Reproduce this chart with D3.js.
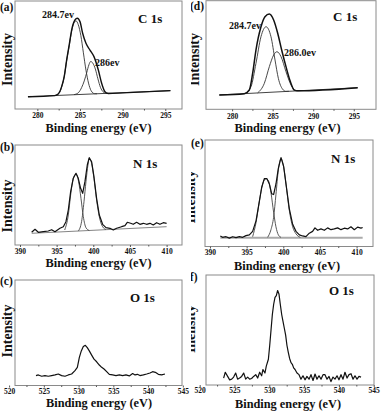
<!DOCTYPE html>
<html>
<head>
<meta charset="utf-8">
<style>
  body { margin: 0; background: #fff; }
  .frame { fill: none; stroke: #8a8a8a; stroke-width: 1; }
  .axis text { font-size: 7.5px; font-family: "Liberation Serif", "Times New Roman", "DejaVu Serif", serif; font-weight: bold; fill: #111; }
  .axis line { stroke: #555; }
  .axis path { display: none; }
</style>
<script src="https://d3js.org/d3.v7.min.js"></script>
</head>
<body>
<script>
// ---- data: [binding energy (eV), intensity (a.u., 0-100 of frame)] ----

// (a) C 1s
const c1sA_ticks = [280, 285, 290, 295];
const c1sA_envelope = [[278.9,11.4],[282.0,12.4],[282.3,13.0],[282.85,20.7],[283.15,30],[283.44,45.4],[283.75,60],[284.02,73.1],[284.41,82.4],[284.69,84.0],[285.0,80.9],[285.31,70.1],[285.7,60.8],[286.17,54.6],[286.64,48.5],[287.15,36.1],[287.54,23.8],[287.93,16.0],[288.32,14.4],[290,14.9],[295.6,17.0]];
const c1sA_peak1 = [[282.0,12.4],[282.6,15],[282.85,20.5],[283.15,30],[283.44,45],[283.75,59],[284.02,72],[284.3,80],[284.55,81.5],[284.8,78],[285.1,68],[285.4,52],[285.7,36],[286.0,24],[286.3,17],[286.7,14.2],[287.0,14.1]];
const c1sA_peak2 = [[284.3,13.3],[284.8,15],[285.2,20],[285.5,26],[285.8,34],[286.05,41],[286.25,44],[286.5,42.5],[286.8,37],[287.1,28],[287.4,20],[287.7,16],[288.0,14.6],[288.3,14.5]];
const c1sA_base = [[278.9,11.4],[295.6,17.0]];

// (d) C 1s
const c1sD_ticks = [280, 285, 290, 295];
const c1sD_envelope = [[278.42,13.2],[281.5,14.4],[282.12,17.8],[282.53,33],[282.94,54.6],[283.56,76],[284.05,85.3],[284.59,87.7],[285.12,82.2],[285.62,70],[286.11,54.6],[286.64,39.3],[287.18,25.5],[287.67,17.7],[288.08,17.0],[295.48,19.9]];
const c1sD_peak1 = [[281.6,14.5],[282.33,20.9],[282.94,42.3],[283.56,66.9],[284.18,76],[284.79,66.9],[285.29,45.4],[285.70,28.5],[286.23,18.5],[286.64,16.5],[287.0,16.6]];
const c1sD_peak2 = [[283.15,15.1],[283.97,23.9],[284.59,39.3],[285.12,50],[285.53,53],[286.03,48.5],[286.64,34.7],[287.26,22.4],[287.88,17.2],[288.4,17.2]];
const c1sD_base = [[278.42,13.2],[295.48,19.9]];

// (b) N 1s
const n1sB_ticks = [390, 395, 400, 405, 410];
const n1sB_data = [[391.59,12.7],[392.05,15.7],[392.5,12.7],[393.18,13.3],[393.86,14],[394.32,15.3],[394.77,13.3],[395.45,16.7],[395.91,18.3],[396.27,23.3],[396.59,35],[396.91,53.3],[397.27,66.7],[397.64,71.7],[397.95,66.7],[398.27,56.7],[398.55,51.7],[398.86,63.3],[399.18,80],[399.45,87.3],[399.77,83.3],[400.09,68.3],[400.45,46.7],[400.82,30],[401.27,20.7],[401.73,17.3],[402.27,16.7],[402.73,15],[403.18,16.7],[403.86,18.3],[404.32,19.3],[404.64,22.7],[405.09,21.7],[405.45,20.7],[405.91,22.7],[406.36,20.7],[406.82,21.7],[407.27,20.7],[407.73,21.7],[408.18,20],[408.64,22.3],[409.09,20.7],[409.55,22.3],[410.0,21.7]];
const n1sB_peak1 = [[396.1,15],[396.59,30],[396.91,50],[397.27,66.7],[397.64,71],[398.0,63.3],[398.32,46.7],[398.64,28.3],[399.0,17.3],[399.45,14.5]];
const n1sB_peak2 = [[397.95,13.9],[398.4,23.3],[398.73,43.3],[399.0,63.3],[399.27,80],[399.45,86.7],[399.77,81.7],[400.09,66.7],[400.45,45],[400.82,28.3],[401.27,18.3],[401.73,15.5]];
const n1sB_base = [[391.6,11.7],[410.0,18.3]];

// (e) N 1s
const n1sE_ticks = [390, 395, 400, 405, 410];
const n1sE_data = [[391.41,9.9],[391.72,8.6],[392.19,9.2],[392.64,7.9],[393.10,9.2],[393.55,8.3],[394.01,9.2],[394.46,8.6],[394.91,10.2],[395.37,10.9],[395.82,14.2],[396.28,24.1],[396.73,42.2],[397.05,55.4],[397.41,63.7],[397.77,63.7],[398.10,58.7],[398.42,49.5],[398.68,48.8],[399.00,58.7],[399.33,73.6],[399.69,83.5],[400.05,75.2],[400.37,58.7],[400.82,35.6],[401.28,20.8],[401.73,14.2],[402.19,10.9],[402.64,9.9],[403.09,9.2],[403.55,12.5],[404.00,14.2],[404.32,17.5],[404.69,15.2],[405.14,16.5],[405.60,15.2],[406.05,17.5],[406.51,15.8],[406.96,16.5],[407.42,17.5],[407.87,15.8],[408.33,17.2],[408.78,16.5],[409.23,18.5],[409.69,15.8],[410.14,18.2],[410.60,17.2],[410.83,17.8]];
const n1sE_peak1 = [[395.82,9.2],[396.28,22.4],[396.73,42.2],[397.19,58.7],[397.64,63.7],[397.96,62],[398.32,50.5],[398.68,32.3],[399.00,18.5],[399.33,10.9],[399.69,8.6]];
const n1sE_peak2 = [[397.86,8.6],[398.32,15.8],[398.68,27.4],[399.00,48.8],[399.33,72],[399.69,82.5],[400.05,74.6],[400.37,58.7],[400.82,34],[401.28,18.5],[401.73,11.9],[402.33,8.6]];
const n1sE_base = [[391.41,8.25],[410.83,8.25]];

// (c) O 1s
const o1sC_ticks = [520, 525, 530, 535, 540, 545];
const o1sC_data = [[523.87,9.4],[524.21,10],[524.69,8.8],[525.16,9.4],[525.64,8.8],[526.13,9.4],[526.61,10],[527.08,10.9],[527.56,9.4],[528.05,8.8],[528.52,10],[529.00,10.9],[529.48,14.1],[529.82,17.2],[530.11,26.6],[530.39,32.8],[530.68,36.9],[530.97,38.1],[531.25,35.9],[531.54,32.8],[531.88,28.8],[532.22,25],[532.60,22.5],[532.98,19.4],[533.32,17.2],[533.66,15.6],[534.04,13.1],[534.42,10.6],[534.90,10],[535.38,9.4],[535.86,10],[536.34,9.4],[536.82,10],[537.30,9.1],[537.78,11.3],[538.12,10],[538.45,10.6],[538.83,9.4],[539.32,10],[539.80,10.9],[540.27,11.9],[540.65,13.1],[541.04,12.5],[541.48,10.6],[541.95,10],[542.43,10.9]];

// (f) O 1s
const o1sF_ticks = [520, 525, 530, 535, 540, 545];
const o1sF_data = [[523.44,6.3],[523.68,11.6],[524.02,7.8],[524.31,4.7],[524.60,5.3],[524.88,7.2],[525.17,10.9],[525.45,5.3],[525.74,6.3],[526.03,7.8],[526.32,10.9],[526.61,5.3],[526.89,7.2],[527.18,5.3],[527.46,5.9],[527.75,7.8],[528.05,9.4],[528.33,6.3],[528.62,11.6],[528.90,8.4],[529.09,14.1],[529.38,10.9],[529.57,17.2],[529.87,23.4],[530.06,35.9],[530.25,50],[530.44,64.1],[530.63,73.4],[530.82,79.7],[531.01,81.3],[531.20,85.9],[531.39,82.8],[531.58,73.4],[531.78,64.1],[531.97,57.8],[532.16,51.6],[532.35,45.3],[532.54,35.9],[532.73,29.7],[532.92,24.1],[533.12,20.3],[533.31,18.8],[533.50,15.6],[533.70,14.1],[533.98,10.9],[534.27,9.4],[534.55,5.3],[534.84,8.4],[535.13,4.7],[535.41,7.8],[535.71,5.3],[535.99,9.4],[536.28,4.1],[536.57,10],[536.85,5.3],[537.14,8.4],[537.43,5.3],[537.72,9.4],[538.00,9.4],[538.29,5.3],[538.58,7.8],[538.86,3.1],[539.15,7.2],[539.44,5.3],[539.73,8.4],[540.01,4.7],[540.30,9.4],[540.59,5.3],[540.87,11.6],[541.17,6.3],[541.45,9.4],[541.74,10.3],[542.03,5.3],[542.31,8.4],[542.60,5.3],[542.88,7.8],[543.18,7.2]];

// ---- drawing ----
const serif = "'Liberation Serif', 'Times New Roman', 'DejaVu Serif', serif";
const svg = d3.select("body").append("svg").attr("width", 382).attr("height", 411)
  .style("display", "block");

svg.append("defs").append("clipPath").attr("id", "rightcol")
  .append("rect").attr("x", 191).attr("y", 0).attr("width", 191).attr("height", 411);

function label(g, txt, x, y, size) {
  return g.append("text").attr("x", x).attr("y", y)
    .attr("font-family", serif).attr("font-weight", "bold")
    .attr("font-size", size).attr("fill", "#111").text(txt);
}

function drawPanel(p) {
  const g = svg.append("g");
  if (p.clip) g.attr("clip-path", "url(#rightcol)");

  const x = d3.scaleLinear().domain(p.xDomain).range([p.left, p.right]);
  const y = d3.scaleLinear().domain([0, 100]).range([p.bottom, p.top]);

  g.append("rect").attr("class", "frame")
    .attr("x", p.left).attr("y", p.top)
    .attr("width", p.right - p.left).attr("height", p.bottom - p.top);

  // minor ticks halfway between labelled ones
  const minor = p.ticks.slice(0, -1).map(t => t + (p.ticks[1] - p.ticks[0]) / 2);
  g.append("g").attr("class", "axis")
    .attr("transform", `translate(0,${p.bottom})`)
    .call(d3.axisBottom(x).tickValues(minor).tickSize(1.5).tickFormat(""));
  g.append("g").attr("class", "axis")
    .attr("transform", `translate(0,${p.bottom})`)
    .call(d3.axisBottom(x).tickValues(p.ticks).tickSize(2).tickPadding(p.pad || 3).tickFormat(d3.format("d")));

  const smooth = d3.line().x(d => x(d[0])).y(d => y(d[1])).curve(d3.curveMonotoneX);
  const raw = d3.line().x(d => x(d[0])).y(d => y(d[1]));

  (p.lines || []).forEach(l => {
    g.append("path").datum(l.data)
      .attr("d", l.raw ? raw : smooth)
      .attr("fill", "none")
      .attr("stroke", l.color || "#111")
      .attr("stroke-width", l.width || 1)
      .attr("stroke-linejoin", "round");
  });

  label(g, p.title[0], p.title[1], p.title[2], 13);
  (p.notes || []).forEach(n => label(g, n[0], n[1], n[2], 10));
  label(g, p.tag[0], p.tag[1], p.tag[2], 11.5);
  label(g, "Binding energy (eV)", p.xlab[0], p.xlab[1], p.xlabSize || 13.5)
    .attr("text-anchor", "middle")
    .attr("textLength", 106).attr("lengthAdjust", "spacingAndGlyphs");
  label(g, p.ylab[0], 0, 0, 14)
    .attr("transform", `translate(${p.ylab[1]},${p.ylab[2]}) rotate(-90)`)
    .attr("text-anchor", "middle");
}

const panels = [
  { left: 15, right: 182, top: 1, bottom: 109, xDomain: [277.38, 296.96], ticks: c1sA_ticks, pad: 2,
    lines: [
      { data: c1sA_base, color: "#444", width: 1 },
      { data: c1sA_peak1, color: "#333", width: 0.9 },
      { data: c1sA_peak2, color: "#333", width: 0.9 },
      { data: c1sA_envelope, width: 1.4 }],
    title: ["C 1s", 138, 23], notes: [["284.7ev", 42, 18], ["286ev", 95, 66]],
    tag: ["(a)", 0, 11], xlab: [98.5, 132], ylab: ["Intensity", 11.7, 59.5] },
  { left: 206, right: 376, top: 0.7, bottom: 109.3, xDomain: [276.78, 297.74], ticks: c1sD_ticks, clip: true, pad: 2,
    lines: [
      { data: c1sD_base, color: "#444", width: 1 },
      { data: c1sD_peak1, color: "#333", width: 0.9 },
      { data: c1sD_peak2, color: "#333", width: 0.9 },
      { data: c1sD_envelope, width: 1.5 }],
    title: ["C 1s", 333, 21], notes: [["284.7ev", 229, 29], ["286.0ev", 284, 56]],
    tag: ["(d)", 190, 10], xlab: [287.5, 131.5], ylab: ["Intensity", 199.3, 59.5] },
  { left: 15, right: 182, top: 145, bottom: 245, xDomain: [389.32, 412.1], ticks: n1sB_ticks, pad: 1.5,
    lines: [
      { data: n1sB_base, color: "#777", width: 0.9 },
      { data: n1sB_peak1, color: "#444", width: 0.9 },
      { data: n1sB_peak2, color: "#444", width: 0.9 },
      { data: n1sB_data, raw: true, width: 1.2 }],
    title: ["N 1s", 133, 168],
    tag: ["(b)", 0, 151], xlab: [98.5, 267], xlabSize: 13, ylab: ["Intensity", 11.7, 206] },
  { left: 205, right: 373, top: 140, bottom: 246.5, xDomain: [389.32, 412.24], ticks: n1sE_ticks, clip: true, pad: 1.5,
    lines: [
      { data: n1sE_base, color: "#aaa", width: 2 },
      { data: n1sE_peak1, color: "#444", width: 0.9 },
      { data: n1sE_peak2, color: "#444", width: 0.9 },
      { data: n1sE_data, raw: true, width: 1.2 }],
    title: ["N 1s", 331, 163],
    tag: ["(e)", 191, 147], xlab: [287, 270], xlabSize: 13, ylab: ["Intensity", 195, 197] },
  { left: 15, right: 182, top: 280, bottom: 385.5, xDomain: [520.85, 544.88], ticks: o1sC_ticks, pad: 1,
    lines: [{ data: o1sC_data, raw: true, width: 1.2 }],
    title: ["O 1s", 130, 302],
    tag: ["(c)", 0, 285], xlab: [99, 407], xlabSize: 13, ylab: ["Intensity", 11.7, 331] },
  { left: 206, right: 374, top: 275, bottom: 385, xDomain: [520.91, 545.04], ticks: o1sF_ticks, clip: true, pad: 1,
    lines: [{ data: o1sF_data, raw: true, width: 1.2 }],
    title: ["O 1s", 329, 295],
    tag: ["(f)", 186, 281], xlab: [288, 407.5], xlabSize: 13, ylab: ["Inensity", 195, 329] }
];

panels.forEach(drawPanel);
</script>
</body>
</html>
